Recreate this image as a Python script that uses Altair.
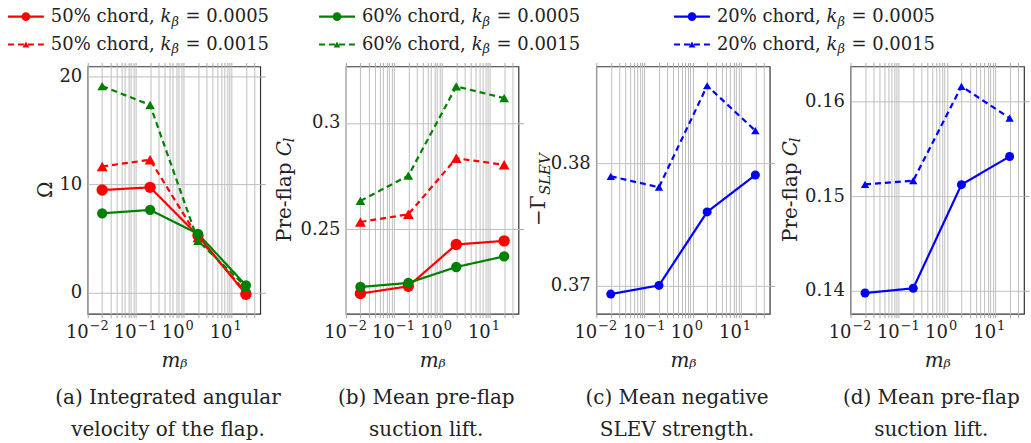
import altair as alt
import pandas as pd

FONT = "DejaVu Serif"
TXT = "#222222"

# ---------------- data ----------------
M_BETA = [0.02, 0.2, 2, 20]

KEYS = ["c50_k5", "c50_k15", "c60_k5", "c60_k15", "c20_k5", "c20_k15"]
CHORDS = ["50%", "50%", "60%", "60%", "20%", "20%"]
KVALS = ["0.0005", "0.0015", "0.0005", "0.0015", "0.0005", "0.0015"]
COLORS = ["#ff0000", "#ff0000", "#008000", "#008000", "#0000ff", "#0000ff"]
DASHES = [[1, 0], [6, 4], [1, 0], [6, 4], [1, 0], [6, 4]]
SHAPES = ["circle", "triangle-up", "circle", "triangle-up", "circle", "triangle-up"]
SIZES = [130, 70, 130, 70, 130, 70]

# (a) integrated angular velocity
OMEGA_50_K5 = [9.49, 9.74, 5.28, -0.15]
OMEGA_50_K15 = [11.67, 12.29, 5.10, 0.05]
OMEGA_60_K5 = [7.34, 7.65, 5.44, 0.68]
OMEGA_60_K15 = [19.10, 17.36, 4.80, 0.55]
# (b) mean pre-flap suction lift
CL_50_K5 = [0.2197, 0.2231, 0.2428, 0.2445]
CL_50_K15 = [0.2534, 0.2570, 0.2834, 0.2803]
CL_60_K5 = [0.2228, 0.2247, 0.2322, 0.2372]
CL_60_K15 = [0.2633, 0.2752, 0.3172, 0.3117]
# (c) mean negative SLEV strength
GAMMA_20_K5 = [0.36932, 0.37003, 0.37605, 0.37907]
GAMMA_20_K15 = [0.37896, 0.37807, 0.38638, 0.38270]
# (d) mean pre-flap suction lift (20% chord)
CLD_20_K5 = [0.13975, 0.14025, 0.15121, 0.15419]
CLD_20_K15 = [0.15124, 0.15163, 0.16161, 0.15825]

X_DOMAIN = [0.01, 10 ** 1.6]
X_TICKS = ([i / 100 for i in range(1, 10)] + [i / 10 for i in range(1, 10)]
           + [float(i) for i in range(1, 10)] + [10.0, 20.0, 30.0])
X_LABEL_VALUES = [0.01, 0.1, 1, 10]
X_LABEL_EXP = ["\u22122", "\u22121", "0", "1"]

YDOM_A = [-1.95, 20.92]
YDOM_B = [0.2102, 0.3266]
YDOM_C = [0.36771, 0.38796]
YDOM_D = [0.13756, 0.16371]
YT_A = [0, 10, 20]
YT_B = [0.25, 0.3]
YT_C = [0.37, 0.38]
YT_D = [0.14, 0.15, 0.16]

CAPTIONS = [
    ["(a) Integrated angular", "velocity of the flap."],
    ["(b) Mean pre-flap", "suction lift."],
    ["(c) Mean negative", "SLEV strength."],
    ["(d) Mean pre-flap", "suction lift."],
]

LEG_COL = [0, 0, 1, 1, 2, 2]
LEG_ROW = [0, 1, 0, 1, 0, 1]

# ---------------- layout / style ----------------
H = 248
WIDTHS = [173, 173, 174, 174]
GAPS = [86, 78, 81]
LEG_X = [-80, 232, 588]

COLOR = alt.Color("key:N", scale=alt.Scale(domain=KEYS, range=COLORS), legend=None)
DASH = alt.StrokeDash("key:N", scale=alt.Scale(domain=KEYS, range=DASHES), legend=None)
SHAPE = alt.Shape("key:N", scale=alt.Scale(domain=KEYS, range=SHAPES), legend=None)
SIZE = alt.Size("key:N", scale=alt.Scale(domain=KEYS, range=SIZES), legend=None)


def make_df(keys, series):
    rows = []
    for k, vals in zip(keys, series):
        for m, v in zip(M_BETA, vals):
            rows.append({"key": k, "m": m, "v": v})
    return pd.DataFrame(rows)


def panel(df, ydom, yticks, ysegs, ytx, caption, width):
    xs = alt.Scale(type="log", domain=X_DOMAIN, nice=False)
    ys = alt.Scale(domain=ydom, nice=False, zero=False)
    lines = alt.Chart(df).mark_line(strokeWidth=2.2).encode(
        x=alt.X("m:Q", scale=xs, axis=alt.Axis(
            orient="bottom", values=X_TICKS, grid=True, labels=False, ticks=True,
            tickSize=4, domain=False, title="m\u1d66", titleFontStyle="italic",
            titlePadding=32)),
        y=alt.Y("v:Q", scale=ys, axis=alt.Axis(
            orient="left", values=yticks, grid=True, ticks=False, tickSize=0,
            labels=True, labelPadding=6, format=".3~r", domain=False, title=None)),
        color=COLOR, strokeDash=DASH, detail="key:N",
    )
    pts = alt.Chart(df).mark_point(filled=True, opacity=1).encode(
        x=alt.X("m:Q", scale=xs, axis=alt.Axis(
            orient="top", values=X_TICKS, grid=False, labels=False, tickSize=4,
            domain=False, title=None)),
        y=alt.Y("v:Q", scale=ys, axis=alt.Axis(
            orient="right", values=yticks, grid=False, labels=False, tickSize=5,
            domain=False, title=None)),
        color=COLOR, shape=SHAPE, size=SIZE,
    )
    xlab = pd.DataFrame({"m": X_LABEL_VALUES, "e": X_LABEL_EXP})
    base = alt.Chart(xlab).mark_text(
        text="10", font=FONT, fontSize=18, align="right", baseline="middle",
        dx=1, color=TXT).encode(
        x=alt.X("m:Q", scale=xs, axis=None), y=alt.value(H + 19))
    expo = alt.Chart(xlab).mark_text(
        font=FONT, fontSize=13, align="left", baseline="middle", dx=2, dy=-7,
        color=TXT).encode(
        x=alt.X("m:Q", scale=xs, axis=None), y=alt.value(H + 19), text="e:N")
    tl = []
    for (t, fs, style, dx, dy) in ysegs:
        tl.append(alt.Chart(pd.DataFrame({"t": [t]})).mark_text(
            angle=270, align="left", baseline="middle", font=FONT, fontSize=fs,
            fontStyle=style, dx=dx, dy=dy, color=TXT).encode(
            x=alt.value(ytx), y=alt.value(H / 2), text="t:N"))
    return alt.layer(lines, pts, base, expo, *tl).resolve_axis(
        x="independent", y="independent").properties(
        width=width, height=H,
        title=alt.TitleParams(caption, orient="bottom", anchor="middle",
                              frame="group", font=FONT, fontSize=20,
                              fontWeight="normal", color=TXT, lineHeight=32,
                              offset=18, dx=-6))


def spacer(w):
    return alt.Chart(pd.DataFrame({"s": [0]})).mark_point(opacity=0).encode(
        x=alt.value(0), y=alt.value(0)).properties(
        width=w, height=H, view=alt.ViewBackground(stroke=None))


CL_SEGS = [("Pre-flap ", 20, "normal", -52, 0), ("C", 20, "italic", 34, 0),
           ("l", 14, "italic", 48, 5)]
pa = panel(make_df(KEYS[:4], [OMEGA_50_K5, OMEGA_50_K15, OMEGA_60_K5, OMEGA_60_K15]),
           YDOM_A, YT_A, [("\u03a9", 20, "normal", -8, 0)], -42, CAPTIONS[0], WIDTHS[0])
pb = panel(make_df(KEYS[:4], [CL_50_K5, CL_50_K15, CL_60_K5, CL_60_K15]),
           YDOM_B, YT_B, CL_SEGS, -61, CAPTIONS[1], WIDTHS[1])
pc = panel(make_df(KEYS[4:], [GAMMA_20_K5, GAMMA_20_K15]),
           YDOM_C, YT_C, [("\u2212\u0393", 20, "normal", -36, 0),
                          ("SLEV", 15, "italic", -5, 6)], -57, CAPTIONS[2], WIDTHS[2])
pd_ = panel(make_df(KEYS[4:], [CLD_20_K5, CLD_20_K15]),
            YDOM_D, YT_D, CL_SEGS, -60, CAPTIONS[3], WIDTHS[3])

# ---------------- legend ----------------
leg = pd.DataFrame({
    "key": KEYS, "col": LEG_COL, "row": LEG_ROW,
    "lab": [c + " chord," for c in CHORDS],
    "eq": ["= " + k for k in KVALS],
})
lx = alt.X("col:Q", scale=alt.Scale(domain=[0, 1, 2], range=LEG_X), axis=None)
ly = alt.Y("row:Q", scale=alt.Scale(domain=[0, 1], range=[0, 28]), axis=None)
lrule = alt.Chart(leg).mark_rule(strokeWidth=2.2, x2Offset=36).encode(
    x=lx, x2="col:Q", y=ly, color=COLOR, strokeDash=DASH)
lcirc = alt.Chart(leg).transform_filter(alt.datum.row == 0).mark_point(
    shape="circle", filled=True, opacity=1, size=75, xOffset=18).encode(
    x=lx, y=ly, color=COLOR)
ltri = alt.Chart(leg).transform_filter(alt.datum.row == 1).mark_point(
    shape="triangle-up", filled=True, opacity=1, size=45, xOffset=18).encode(
    x=lx, y=ly, color=COLOR)
lt1 = alt.Chart(leg).mark_text(font=FONT, fontSize=18, align="left",
                               baseline="middle", dx=43, color=TXT).encode(
    x=lx, y=ly, text="lab:N")
lt2 = alt.Chart(leg).mark_text(font=FONT, fontSize=18, align="left", text="k",
                               fontStyle="italic", baseline="middle", dx=153,
                               color=TXT).encode(x=lx, y=ly)
lt3 = alt.Chart(leg).mark_text(font=FONT, fontSize=13, align="left",
                               text="\u03b2", fontStyle="italic",
                               baseline="middle", dx=164, dy=5,
                               color=TXT).encode(x=lx, y=ly)
lt4 = alt.Chart(leg).mark_text(font=FONT, fontSize=18, align="left",
                               baseline="middle", dx=178, color=TXT).encode(
    x=lx, y=ly, text="eq:N")
legend = alt.layer(lrule, lcirc, ltri, lt1, lt2, lt3, lt4).properties(
    width=939, height=28, view=alt.ViewBackground(stroke=None))

row = alt.hconcat(pa, spacer(GAPS[0]), pb, spacer(GAPS[1]), pc,
                  spacer(GAPS[2]), pd_, spacing=0, bounds="flush")

chart = alt.vconcat(legend, row, spacing=22, bounds="flush").properties(
    padding={"left": 6, "top": 7, "right": 0, "bottom": 2},
    background="white",
).configure_view(stroke="#333333", strokeWidth=1.2).configure_axis(
    labelFont=FONT, labelFontSize=18, labelColor=TXT,
    titleFont=FONT, titleFontSize=20, titleColor=TXT, titleFontWeight="normal",
    gridColor="#bfbfbf", gridWidth=1, gridOpacity=1,
    tickColor="#aaaaaa", tickWidth=1,
)

chart.save("out.html", embed_options={"renderer": "svg", "actions": False})
